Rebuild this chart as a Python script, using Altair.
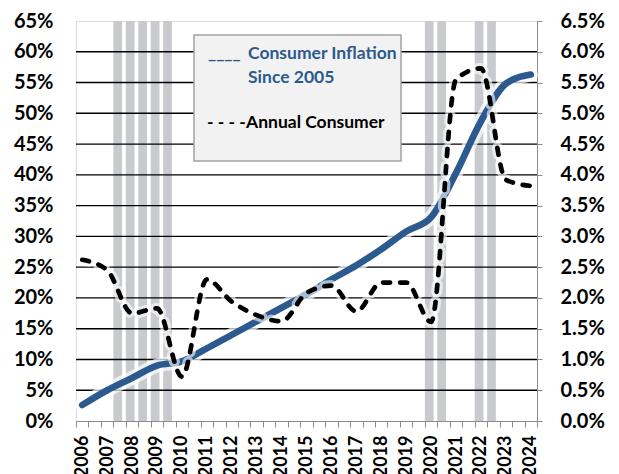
import altair as alt
import pandas as pd

# ---------------- data ----------------
years = list(range(2006, 2025))
# cumulative consumer inflation since 2005, % (left axis)
cumulative = [2.6, 5.0, 7.0, 9.0, 9.7, 11.8, 14.0, 16.2, 18.4, 20.6,
              23.0, 25.3, 27.9, 30.8, 33.1, 40.3, 48.7, 54.8, 56.3]
# annual consumer inflation, % (right axis)
annual = [2.62, 2.45, 1.75, 1.83, 0.72, 2.30, 1.94, 1.72, 1.62, 2.08,
          2.20, 1.78, 2.25, 2.25, 1.61, 5.55, 5.73, 3.92, 3.82]
# shaded half-year periods (centre of each half-year category)
shaded_halfyears = [2007.5, 2008.0, 2008.5, 2009.0, 2009.5, 2020.0, 2020.5, 2022.0, 2022.5]

left_ticks = [round(i * 0.05, 3) for i in range(14)]      # 0% .. 65%
right_ticks = [round(i * 0.005, 4) for i in range(14)]    # 0.0% .. 6.5%
grid_levels = [round(i * 0.05, 3) for i in range(1, 13)]  # 5% .. 60%
x_ticks = [2005.75 + 0.5 * i for i in range(38)]          # half-year boundaries

df = pd.DataFrame({
    "year": years,
    "cum": [v / 100 for v in cumulative],
    "ann": [v / 100 for v in annual],
})
shade_df = pd.DataFrame({"mid": shaded_halfyears})
grid_df = pd.DataFrame({"g": grid_levels})

# ---------------- styling ----------------
W, H = 461, 400
FONT = "Lato"
BLUE = "#2c5a8f"
AXIS_GRAY = "#8c8c8c"

xscale = alt.Scale(domain=[2005.75, 2024.25], nice=False, zero=False)
lscale = alt.Scale(domain=[0, 0.65], nice=False, zero=True)
rscale = alt.Scale(domain=[0, 0.065], nice=False, zero=True)

xaxis = alt.Axis(
    title=None, values=x_ticks,
    labelExpr="(datum.value - floor(datum.value)) == 0.75 ? '' + (datum.value + 0.25) : ''",
    labelAngle=270, labelFont=FONT, labelFontWeight="bold", labelFontSize=18,
    labelColor="#000000", labelPadding=8, labelOffset=6.23, labelOverlap=False,
    labelFlush=False, tickColor=AXIS_GRAY, tickSize=6, tickWidth=1,
    domainColor=AXIS_GRAY, domainWidth=1, grid=False,
)
laxis = alt.Axis(
    title=None, orient="left", values=left_ticks, format=".0%",
    labelFont=FONT, labelFontWeight="bold", labelFontSize=20, labelColor="#000000",
    labelPadding=23, ticks=False, domain=False, grid=False, labelOverlap=False,
)
raxis = alt.Axis(
    title=None, orient="right", values=right_ticks, format=".1%",
    labelFont=FONT, labelFontWeight="bold", labelFontSize=20, labelColor="#000000",
    labelPadding=18, tickColor=AXIS_GRAY, tickSize=5, domainColor=AXIS_GRAY,
    domainWidth=1, grid=False, labelOverlap=False,
)

X = alt.X("year:Q", scale=xscale, axis=xaxis)

shade = alt.Chart(shade_df).transform_calculate(
    x0="datum.mid - 0.25", x1="datum.mid + 0.1"
).mark_rect(color="#c8cacd").encode(
    x=alt.X("x0:Q", scale=xscale, axis=xaxis), x2="x1:Q"
)

grid = alt.Chart(grid_df).mark_rule(color="#000000", strokeWidth=1.4).encode(
    y=alt.Y("g:Q", scale=lscale, axis=None)
)

blue_glow = alt.Chart(df).mark_line(
    color="white", strokeWidth=14, opacity=0.7, interpolate="monotone", strokeCap="round"
).encode(x=X, y=alt.Y("cum:Q", scale=lscale, axis=None))

blue = alt.Chart(df).mark_line(
    color=BLUE, strokeWidth=6.7, interpolate="monotone", strokeCap="round"
).encode(x=X, y=alt.Y("cum:Q", scale=lscale, axis=laxis))

dash_glow = alt.Chart(df).mark_line(
    color="white", strokeWidth=11, opacity=0.6, interpolate="monotone",
    strokeDash=[7, 10], strokeCap="round"
).encode(x=X, y=alt.Y("ann:Q", scale=rscale, axis=None))

dash = alt.Chart(df).mark_line(
    color="#000000", strokeWidth=4.7, interpolate="monotone",
    strokeDash=[7, 10], strokeCap="round"
).encode(x=X, y=alt.Y("ann:Q", scale=rscale, axis=raxis))

# ---------------- legend box (annotation) ----------------
one = alt.Data(values=[{"k": 1}])
legend_box = alt.Chart(one).mark_rect(
    fill="#f2f2f2", stroke="#a3a3a3", strokeWidth=1.5
).encode(x=alt.value(118), x2=alt.value(325), y=alt.value(14), y2=alt.value(140))


def legend_text(txt, x, y, color):
    return alt.Chart(one).mark_text(
        text=txt, align="left", baseline="alphabetic", font=FONT,
        fontWeight="bold", fontSize=17.5, color=color
    ).encode(x=alt.value(x), y=alt.value(y))


legend = [
    legend_box,
    legend_text("____", 132, 38, BLUE),
    legend_text("Consumer Inflation", 172, 38, BLUE),
    legend_text("Since 2005", 172, 62, BLUE),
    legend_text("- - - -", 131, 107, "#000000"),
    legend_text("Annual Consumer", 170, 107, "#000000"),
]

chart = alt.layer(
    shade, grid, blue_glow, blue, dash_glow, dash, *legend
).resolve_scale(y="independent").properties(
    width=W, height=H, padding={"left": 5, "top": 3, "right": 5, "bottom": 5}
).configure_view(fill="#dce6f2", stroke="transparent", strokeWidth=0
).configure(background="white")

chart.save("out.html", embed_options={"renderer": "svg", "actions": False})
